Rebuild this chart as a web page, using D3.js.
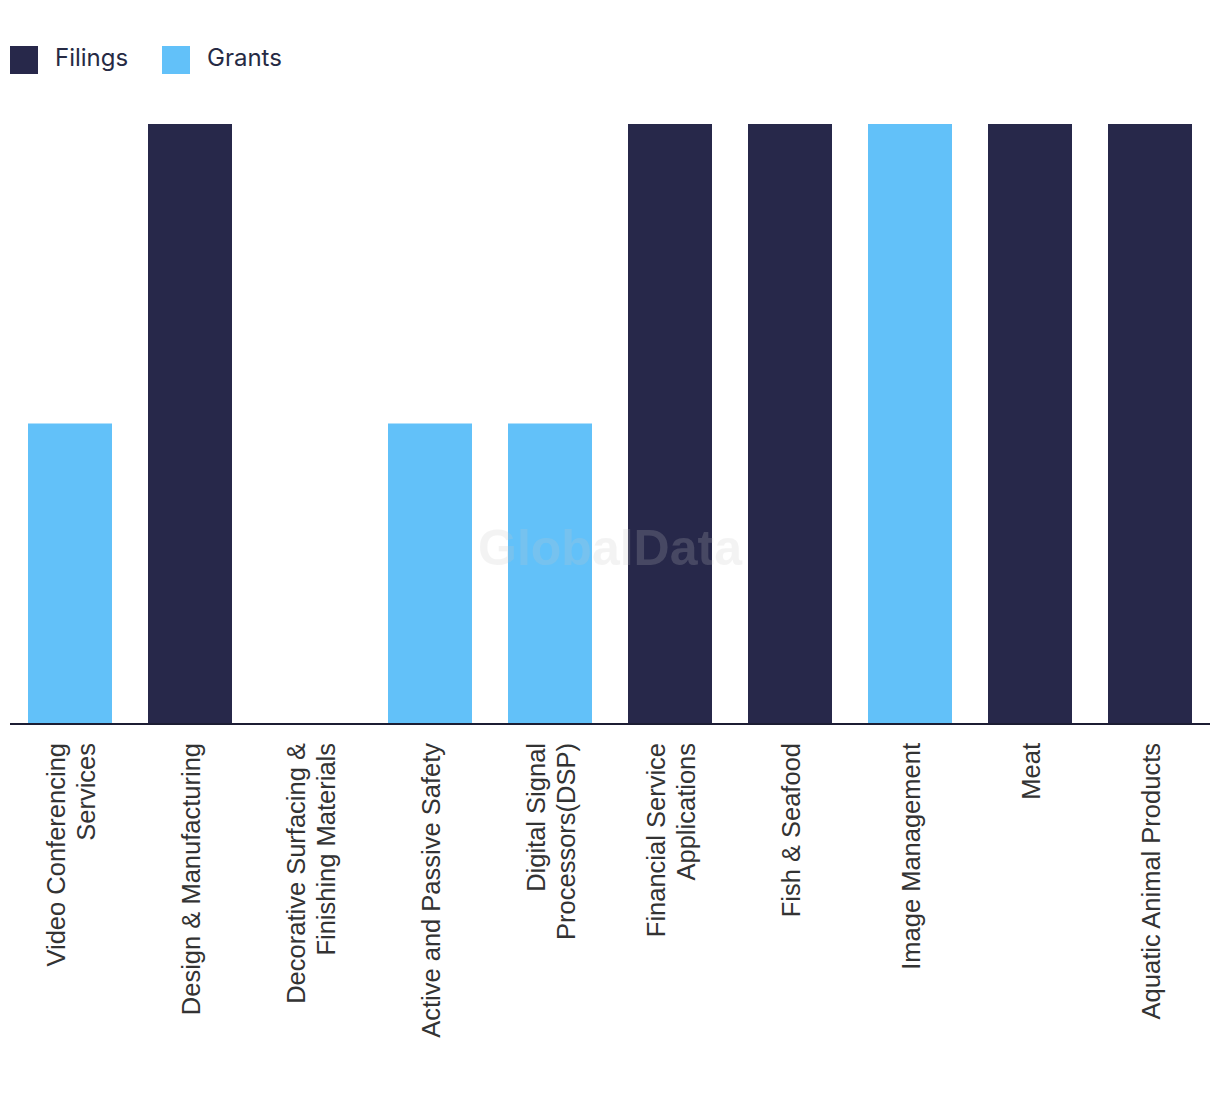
<!DOCTYPE html>
<html>
<head>
<meta charset="utf-8">
<script src="https://cdn.jsdelivr.net/npm/d3@7/dist/d3.min.js"></script>
<style>
  html, body { margin: 0; padding: 0; background: #fff; }
  svg { display: block; }
</style>
</head>
<body>
<svg id="chart" width="1220" height="1094"></svg>
<script>
const categories = [
  "Video Conferencing Services",
  "Design & Manufacturing",
  "Decorative Surfacing & Finishing Materials",
  "Active and Passive Safety",
  "Digital Signal Processors(DSP)",
  "Financial Service Applications",
  "Fish & Seafood",
  "Image Management",
  "Meat",
  "Aquatic Animal Products"
];
const filings = [0, 2, 0, 0, 0, 2, 2, 0, 2, 2];
const grants  = [1, 0, 0, 1, 1, 0, 0, 2, 0, 0];
const seriesNames = ["Filings", "Grants"];
const seriesColors = ["#27284a", "#62c1f9"];

const svg = d3.select("#chart");

const x = d3.scaleBand().domain(categories).range([10, 1210])
  .paddingInner(0.3).paddingOuter(0.15);
const y = d3.scaleLinear().domain([0, 2]).range([723, 124]);

const table = categories.map((c, i) => ({ cat: c, Filings: filings[i], Grants: grants[i] }));
const stacked = d3.stack().keys(seriesNames)(table);

svg.append("g").selectAll("g").data(stacked).join("g")
  .attr("fill", (d, i) => seriesColors[i])
  .selectAll("rect").data(d => d).join("rect")
  .attr("x", d => x(d.data.cat))
  .attr("width", x.bandwidth())
  .attr("y", d => y(d[1]))
  .attr("height", d => y(d[0]) - y(d[1]));

// axis line
const xAxis = d3.axisBottom(x).tickSize(0).tickFormat("");
const axG = svg.append("g").attr("transform", "translate(0,724)").call(xAxis);
axG.select(".domain").attr("stroke", "#1c1d33").attr("stroke-width", 2)
  .attr("d", "M10,0H1210");

// labels
const labelG = svg.append("g");
const fontSize = 25.5;
const maxW = 312;
categories.forEach(c => {
  const cx = x(c) + x.bandwidth() / 2;
  const words = c.split(" ");
  const tmp = labelG.append("text").attr("font-family", "Liberation Sans, Arial, sans-serif")
    .attr("font-size", fontSize);
  const lines = [];
  let cur = [];
  words.forEach(w => {
    const test = cur.concat([w]).join(" ");
    tmp.text(test);
    if (tmp.node().getComputedTextLength() > maxW && cur.length) {
      lines.push(cur.join(" "));
      cur = [w];
    } else cur.push(w);
  });
  lines.push(cur.join(" "));
  tmp.remove();
  const lh = 30;
  const n = lines.length;
  const t = labelG.append("text")
    .attr("transform", `translate(${cx},743) rotate(-90)`)
    .attr("text-anchor", "end")
    .attr("font-family", "Liberation Sans, Arial, sans-serif")
    .attr("font-size", fontSize)
    .attr("fill", "#333");
  lines.forEach((l, i) => {
    t.append("tspan").attr("x", 0)
      .attr("y", 9.5 + (i - (n - 1) / 2) * lh)
      .text(l);
  });
});

// watermark
svg.append("text")
  .attr("x", 610).attr("y", 565)
  .attr("text-anchor", "middle")
  .attr("font-family", "Liberation Sans, Arial, sans-serif")
  .attr("font-weight", "bold")
  .attr("font-size", 50)
  .attr("fill", "#c8c8c8")
  .attr("opacity", 0.2)
  .text("GlobalData");

// legend
const legendX = [10, 162];
const leg = svg.append("g");
seriesNames.forEach((s, i) => {
  leg.append("rect").attr("x", legendX[i]).attr("y", 46)
    .attr("width", 28).attr("height", 28).attr("fill", seriesColors[i]);
  leg.append("text").attr("x", legendX[i] + 45).attr("y", 66)
    .attr("font-family", "Inter, Noto Sans, sans-serif")
    .attr("font-size", 24)
    .attr("fill", "#262a44")
    .text(s);
});
</script>
</body>
</html>
